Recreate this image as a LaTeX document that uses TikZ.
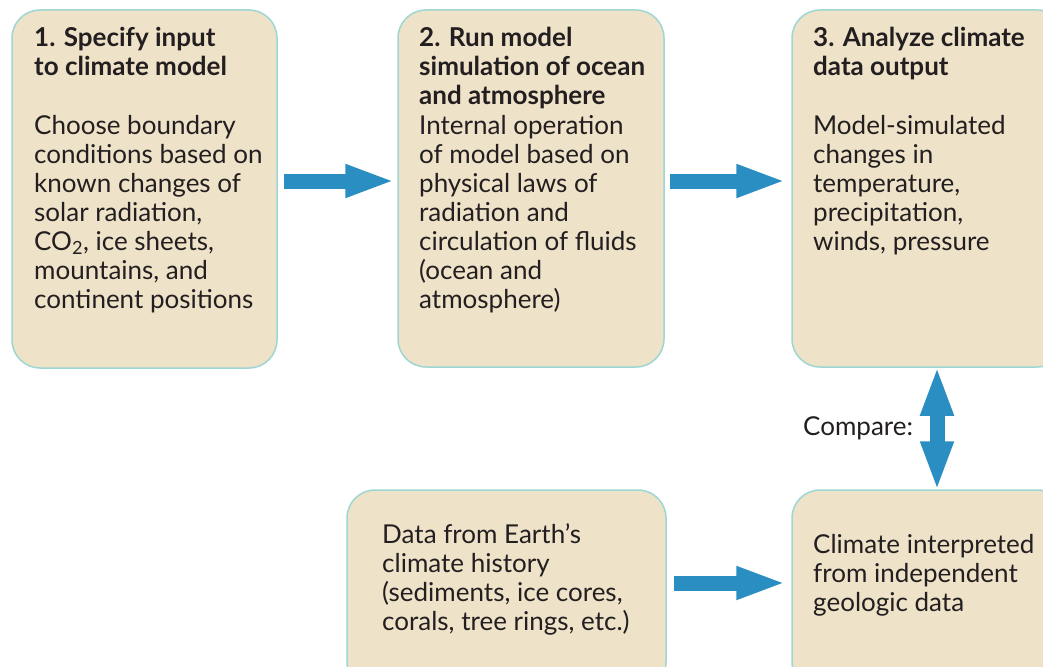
\documentclass[tikz,border=0pt]{standalone}
\usepackage{fontspec}
\setmainfont{Lato}
\usetikzlibrary{arrows.meta,calc}
\definecolor{boxfill}{HTML}{EEE2C8}
\definecolor{boxline}{HTML}{9ED6D3}
\definecolor{arrowblue}{HTML}{2A8EC3}
\definecolor{textcol}{HTML}{231F20}
\begin{document}
\begin{tikzpicture}[x=1pt,y=-1pt,
  box/.style={rectangle, draw=boxline, line width=1.5pt, fill=boxfill, rounded corners=28pt, inner sep=0pt},
  txt/.style={anchor=base west, align=left, inner sep=0pt, font=\fontsize{26}{29}\selectfont, text=textcol},
  ttl/.style={txt, font=\fontsize{26}{29}\selectfont\bfseries},
  bigarrow/.style={draw=arrowblue, line width=15pt, -{Triangle[length=50pt,width=30pt]}},
  dblarrow/.style={draw=arrowblue, line width=15pt, {Triangle[length=50pt,width=30pt]}-{Triangle[length=50pt,width=30pt]}}
]
\useasboundingbox (0,0) rectangle (1043,666);
\clip (0,0) rectangle (1043,666);
\node[box, minimum width=265pt, minimum height=358pt] (b1) at (144.5,189) {};
\node[box, minimum width=266pt, minimum height=357pt] (b2) at (531,188.5) {};
\node[box, minimum width=273pt, minimum height=357pt] (b3) at (928.5,188.5) {};
\node[box, minimum width=319pt, minimum height=200pt] (b4) at (506.5,590) {};
\node[box, minimum width=273pt, minimum height=200pt] (b5) at (928.5,590) {};

\node[ttl] (t1) at (34,76) {1. Specify input\\to climate model};
\node[txt] (d1) at (34,308) {Choose boundary\\conditions based on\\known changes of\\solar radiation,\\CO\textsubscript{2}, ice sheets,\\mountains, and\\continent positions};
\node[ttl] (t2) at (419,105) {2. Run model\\simulation of ocean\\and atmosphere};
\node[txt] (d2) at (419,308) {Internal operation\\of model based on\\physical laws of\\radiation and\\circulation of fluids\\(ocean and\\atmosphere)};
\node[ttl] (t3) at (813,76) {3. Analyze climate\\data output};
\node[txt] (d3) at (813,250) {Model-simulated\\changes in\\temperature,\\precipitation,\\winds, pressure};
\node[txt] (d4) at (382,630) {Data from Earth’s\\climate history\\(sediments, ice cores,\\corals, tree rings, etc.)};
\node[txt] (d5) at (813,611) {Climate interpreted\\from independent\\geologic data};
\node[txt] (cmp) at (803,435) {Compare:};

\draw[bigarrow] ($(b1.east)+(6,-8)$) -- ($(b2.west)+(-2,-7.5)$);
\draw[bigarrow] ($(b2.east)+(5,-7.5)$) -- ($(b3.west)+(-5,-7.5)$);
\draw[bigarrow] ($(b4.east)+(7,-7)$) -- ($(b5.west)+(-5,-7)$);
\draw[dblarrow] ($(b3.south)+(8.5,-2)$) -- ($(b5.north)+(8.5,2)$);
\end{tikzpicture}
\end{document}
